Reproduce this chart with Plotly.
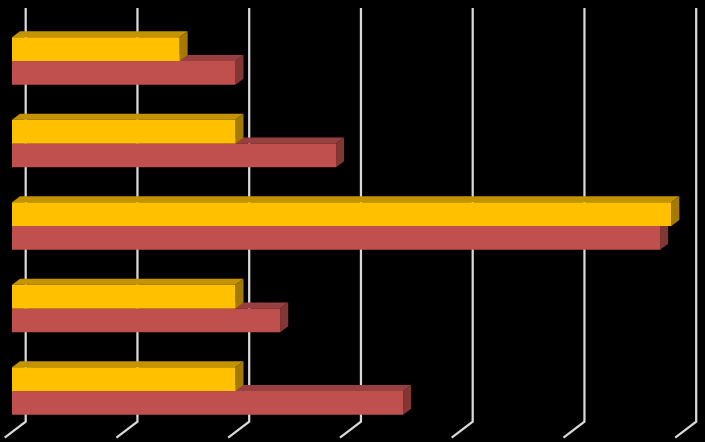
import plotly.graph_objects as go

# values, top group first
groups = ["1", "2", "3", "4", "5"]
yellow_values = [1.5, 2.0, 5.9, 2.0, 2.0]
red_values = [2.0, 2.9, 5.8, 2.4, 3.5]
ticks = [0, 1, 2, 3, 4, 5, 6]

# front, top, side colours of each 3D bar
yellow_faces = ["#FFC000", "#C49300", "#A47B00"]
red_faces = ["#C0504D", "#984040", "#833735"]

# picture scale, pixels per axis unit
WIDTH = 705
HEIGHT = 442
X_UNIT = 111.75
Y_UNIT = 82.5
X_ZERO = 12
Y_ZERO = 61
BAR_H = 23.8 / Y_UNIT
DEPTH_X = 8 / X_UNIT
DEPTH_Y = 6 / Y_UNIT


def polygon(xs, ys, color):
    return go.Scatter(x=xs, y=ys, mode="lines", fill="toself", fillcolor=color,
                      line=dict(width=0), hoverinfo="skip", showlegend=False)


def add_series(fig, values, faces, offset):
    # offset is where the bar's top edge sits relative to the group centre
    for i, val in enumerate(values):
        top = i + offset
        bottom = top + BAR_H
        # top face
        fig.add_trace(polygon([0, DEPTH_X, val + DEPTH_X, val],
                              [top, top - DEPTH_Y, top - DEPTH_Y, top], faces[1]))
        # side face
        fig.add_trace(polygon([val, val + DEPTH_X, val + DEPTH_X, val],
                              [top, top - DEPTH_Y, bottom - DEPTH_Y, bottom], faces[2]))
        # front face
        fig.add_trace(polygon([0, val, val, 0], [top, top, bottom, bottom], faces[0]))


def add_grid(fig):
    # wall line then the short diagonal across the floor, kept below the bars
    back = (25.7 - X_ZERO) / X_UNIT
    front = (4.7 - X_ZERO) / X_UNIT
    y_top = (8 - Y_ZERO) / Y_UNIT
    y_wall = (421.7 - Y_ZERO) / Y_UNIT
    y_foot = (437.7 - Y_ZERO) / Y_UNIT
    for t in ticks:
        path = f"M {t + back} {y_top} L {t + back} {y_wall} L {t + front} {y_foot}"
        fig.add_shape(type="path", path=path, xref="x", yref="y", layer="below",
                      line=dict(color="#D9D9D9", width=2.25))


fig = go.Figure()
add_grid(fig)
add_series(fig, red_values, red_faces, 0)
add_series(fig, yellow_values, yellow_faces, -BAR_H)

fig.update_xaxes(visible=False, range=[-X_ZERO / X_UNIT, (WIDTH - X_ZERO) / X_UNIT])
fig.update_yaxes(visible=False, range=[(HEIGHT - Y_ZERO) / Y_UNIT, -Y_ZERO / Y_UNIT])
fig.update_layout(width=WIDTH, height=HEIGHT, margin=dict(l=0, r=0, t=0, b=0),
                  paper_bgcolor="black", plot_bgcolor="black", showlegend=False)

fig.write_html("out.html", config={"displayModeBar": False},
               post_script="document.body.style.margin='0';document.body.style.background='black';")
